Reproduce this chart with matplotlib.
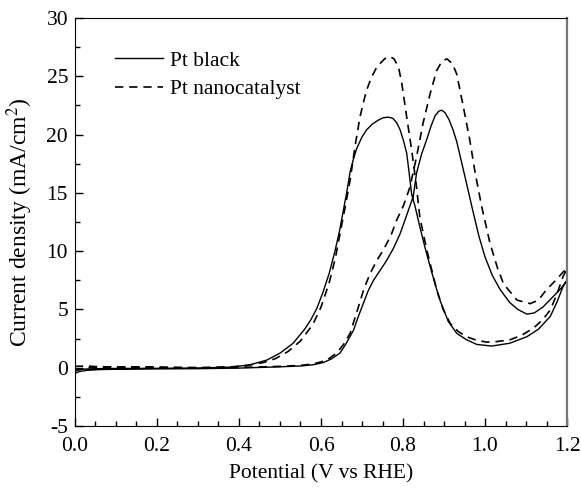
import numpy as np
import matplotlib
matplotlib.use('Agg')
import matplotlib.pyplot as plt

plt.rcParams['font.family'] = ['Liberation Serif', 'DejaVu Serif']
plt.rcParams['mathtext.fontset'] = 'stix'

# Pt black, forward sweep
pb_fwd_x = [0.00, 0.01, 0.03, 0.06, 0.10, 0.20, 0.30, 0.40, 0.50, 0.55, 0.58, 0.606, 0.625,
            0.646, 0.66, 0.679, 0.69, 0.703, 0.715, 0.728, 0.745, 0.760, 0.776, 0.793, 0.813,
            0.825, 0.833, 0.845, 0.858, 0.868, 0.878, 0.887, 0.894, 0.902, 0.912, 0.922, 0.931,
            0.943, 0.955, 0.97, 0.985, 1.0, 1.018, 1.037, 1.06, 1.08, 1.102, 1.12, 1.141,
            1.166, 1.185, 1.20]
pb_fwd_y = [-0.50, -0.33, -0.22, -0.16, -0.13, -0.10, -0.08, -0.03, 0.08, 0.15, 0.25, 0.45, 0.75,
            1.25, 2.0, 3.2, 4.3, 5.5, 6.6, 7.5, 8.4, 9.2, 10.2, 11.5, 13.5,
            14.7, 16.7, 18.3, 19.6, 20.7, 21.6, 22.0, 22.1, 21.9, 21.3, 20.4, 19.4,
            17.6, 15.8, 13.5, 11.3, 9.5, 7.9, 6.7, 5.6, 5.0, 4.6, 4.7, 5.2,
            6.1, 6.8, 7.5]

# Pt black, backward sweep
pb_bwd_x = [1.20, 1.19, 1.175, 1.159, 1.13, 1.102, 1.06, 1.016, 0.98, 0.955, 0.931, 0.91, 0.89,
            0.878, 0.866, 0.853, 0.841, 0.829, 0.821, 0.815, 0.809, 0.801, 0.793, 0.785, 0.775,
            0.764, 0.752, 0.74, 0.725, 0.711, 0.70, 0.687, 0.679, 0.671, 0.663, 0.654, 0.645,
            0.634, 0.62, 0.605, 0.59, 0.575, 0.56, 0.532, 0.50, 0.468, 0.427, 0.38, 0.30, 0.20,
            0.10, 0.05, 0.02, 0.00]
pb_bwd_y = [7.5, 6.95, 5.6, 4.4, 3.3, 2.66, 2.1, 1.86, 2.0, 2.4, 2.95, 4.0, 5.8,
            7.2, 8.7, 10.4, 12.1, 13.9, 14.9, 16.7, 18.4, 19.5, 20.4, 21.0, 21.4,
            21.5, 21.45, 21.25, 20.9, 20.4, 19.8, 18.8, 17.9, 16.8, 15.1, 13.4, 11.7,
            10.0, 8.1, 6.5, 5.1, 4.1, 3.3, 2.1, 1.25, 0.66, 0.25, 0.05, -0.02, -0.05,
            -0.06, -0.08, -0.12, -0.25]

# Pt nanocatalyst, forward sweep
pn_fwd_x = [0.00, 0.01, 0.03, 0.06, 0.10, 0.20, 0.30, 0.40, 0.50, 0.55, 0.58, 0.60, 0.62,
            0.638, 0.655, 0.671, 0.691, 0.705, 0.72, 0.736, 0.752, 0.770, 0.785, 0.801, 0.817,
            0.833, 0.849, 0.866, 0.882, 0.895, 0.907, 0.92, 0.931, 0.947, 0.963, 0.976, 0.992,
            1.012, 1.03, 1.045, 1.078, 1.11, 1.13, 1.15, 1.175, 1.19, 1.20]
pn_fwd_y = [-0.30, -0.12, 0.0, 0.05, 0.05, 0.02, -0.02, 0.02, 0.12, 0.2, 0.32, 0.5, 0.8,
            1.25, 2.0, 2.95, 5.2, 6.8, 8.1, 9.2, 10.1, 11.3, 12.7, 13.9, 15.5,
            18.1, 21.0, 23.5, 25.5, 26.3, 26.5, 26.1, 25.2, 22.4, 19.5, 16.7, 13.8,
            10.7, 8.6, 7.2, 5.8, 5.5, 5.8, 6.7, 7.6, 8.2, 8.5]

# Pt nanocatalyst, backward sweep
pn_bwd_x = [1.20, 1.19, 1.175, 1.159, 1.14, 1.118, 1.09, 1.061, 1.03, 1.004, 0.98, 0.955, 0.935,
            0.915, 0.898, 0.882, 0.87, 0.858, 0.841, 0.833, 0.821, 0.809, 0.797, 0.789, 0.778,
            0.768, 0.755, 0.736, 0.723, 0.711, 0.703, 0.695, 0.683, 0.671, 0.659, 0.648, 0.635,
            0.62, 0.60, 0.58, 0.55, 0.52, 0.49, 0.46, 0.42, 0.38, 0.30, 0.20, 0.10, 0.05, 0.03,
            0.00]
pn_bwd_y = [8.5, 7.8, 6.3, 4.95, 4.1, 3.4, 2.8, 2.4, 2.25, 2.2, 2.35, 2.66, 3.1,
            3.8, 5.0, 6.7, 8.4, 10.1, 12.9, 15.5, 18.7, 21.5, 24.4, 25.8, 26.5,
            26.7, 26.5, 25.8, 24.9, 23.8, 22.7, 21.5, 19.0, 16.1, 13.8, 11.8, 9.4,
            7.3, 5.2, 3.7, 2.3, 1.4, 0.8, 0.45, 0.2, 0.07, 0.02, 0.04, 0.06, 0.1, 0.15,
            0.12]

fig = plt.figure(figsize=(5.81, 4.88), dpi=100)
ax = fig.add_axes([0.129, 0.127, 0.847, 0.836])

ax.plot(pb_fwd_x + pb_bwd_x, pb_fwd_y + pb_bwd_y, color='black', lw=1.0, label='Pt black')
ax.plot(pn_fwd_x + pn_bwd_x, pn_fwd_y + pn_bwd_y, color='black', lw=1.2,
        dashes=(5, 3.5), label='Pt nanocatalyst')

ax.set_xlim(0.0, 1.2)
ax.set_ylim(-5, 30)
ax.set_xticks(np.arange(0.0, 1.21, 0.2))
ax.set_xticks(np.arange(0.0, 1.21, 0.05), minor=True)
ax.set_yticks(np.arange(-5, 31, 5))
ax.set_yticks(np.arange(-5, 31, 2.5), minor=True)
ax.set_xticklabels(['0.0', '0.2', '0.4', '0.6', '0.8', '1.0', '1.2'])
ax.set_yticklabels(['-5', '0', '5', '10', '15', '20', '25', '30'])
ax.tick_params(which='both', direction='in', top=False, right=False, labelsize=15.5)
ax.tick_params(axis='x', which='major', pad=8)
ax.tick_params(axis='y', which='major', pad=5)
ax.tick_params(which='major', length=6, width=1)
ax.tick_params(which='minor', length=3.5, width=1)
ax.spines['right'].set_color('#777777')
ax.spines['right'].set_linewidth(1.6)

ax.set_xlabel('Potential (V vs RHE)', fontsize=15.5, labelpad=6)
ax.set_ylabel('Current density (mA/cm$^2$)', fontsize=17, labelpad=8)

ax.legend(loc='upper left', bbox_to_anchor=(0.043, 0.968), frameon=False, fontsize=15.5,
          handlelength=2.2, handletextpad=0.35, labelspacing=0.4)

fig.savefig('out.png', dpi=100)
